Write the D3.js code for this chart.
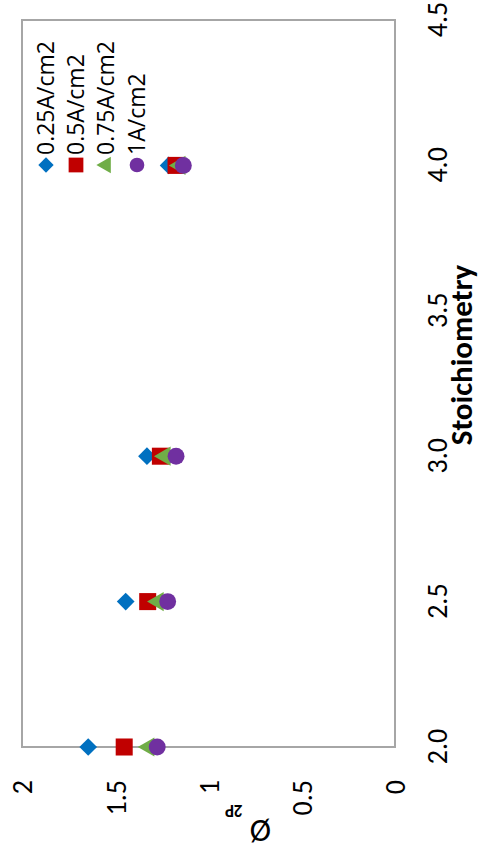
<!DOCTYPE html>
<html>
<head>
<meta charset="utf-8">
<script src="https://cdn.jsdelivr.net/npm/d3@7"></script>
<style>
  html, body { margin: 0; padding: 0; background: #fff; }
  svg { display: block; }
  text { font-family: Carlito, Calibri, "Open Sans", sans-serif; fill: #000; }
</style>
</head>
<body>
<svg id="chart" width="484" height="854"></svg>
<script>
// Stoichiometry values (x) and Ø2P per current density
const stoich = [2.0, 2.5, 3.0, 4.0];
const phi025 = [1.645, 1.444, 1.33, 1.214];
const phi05  = [1.452, 1.326, 1.258, 1.174];
const phi075 = [1.32, 1.27, 1.233, 1.153];
const phi1   = [1.275, 1.219, 1.174, 1.135];
const seriesNames = ["0.25A/cm2", "0.5A/cm2", "0.75A/cm2", "1A/cm2"];
const xTicks = [2.0, 2.5, 3.0, 3.5, 4.0, 4.5];
const yTicks = [0, 0.5, 1, 1.5, 2];

const series = [
  { name: seriesNames[0], values: phi025, color: "#0070C0", symbol: d3.symbolDiamond2 || d3.symbolDiamond, size: 200 },
  { name: seriesNames[1], values: phi05,  color: "#C00000", symbol: d3.symbolSquare, size: 290 },
  { name: seriesNames[2], values: phi075, color: "#70AD47", symbol: d3.symbolTriangle, size: 160 },
  { name: seriesNames[3], values: phi1,   color: "#7030A0", symbol: d3.symbolCircle, size: 225 }
];

const svg = d3.select("#chart");
// The chart is laid out landscape (854 x 484) and turned a quarter turn
const g = svg.append("g").attr("transform", "translate(0,854) rotate(-90)");

const plot = { left: 107, right: 834, top: 22, bottom: 395 };
const x = d3.scaleLinear().domain([2, 4.5]).range([plot.left, plot.right]);
const y = d3.scaleLinear().domain([0, 2]).range([plot.bottom, plot.top]);

// plot frame
g.append("rect")
  .attr("x", plot.left).attr("y", plot.top)
  .attr("width", plot.right - plot.left).attr("height", plot.bottom - plot.top)
  .attr("fill", "none").attr("stroke", "#A6A6A6").attr("stroke-width", 2);

// x axis labels
const xAxis = d3.axisBottom(x).tickValues(xTicks).tickFormat(d3.format(".1f")).tickSize(0).tickPadding(0);
const xa = g.append("g").attr("transform", `translate(0,${plot.bottom})`).call(xAxis);
xa.select(".domain").remove();
xa.selectAll("text")
  .attr("y", 52).attr("dy", 0)
  .style("font-size", "28px").style("font-family", 'Carlito, Calibri, "Open Sans", sans-serif');

// y axis labels
const yAxis = d3.axisLeft(y).tickValues(yTicks).tickFormat(d => String(d)).tickSize(0).tickPadding(0);
const ya = g.append("g").attr("transform", `translate(${plot.left},0)`).call(yAxis);
ya.select(".domain").remove();
ya.selectAll("text")
  .attr("x", -33).attr("dy", "0.35em")
  .style("font-size", "28px").style("font-family", 'Carlito, Calibri, "Open Sans", sans-serif');

// axis titles
g.append("text")
  .attr("x", 499).attr("y", 472)
  .attr("text-anchor", "middle")
  .style("font-size", "31px").style("font-weight", "bold")
  .text("Stoichiometry");

const yt = g.append("text")
  .attr("transform", "translate(34,248) rotate(-90)")
  .attr("text-anchor", "middle");
yt.append("tspan").style("font-size", "32px").text("Ø ");
yt.append("tspan").attr("dy", 15).style("font-size", "17px").style("font-weight", "bold").text("2P");

// data markers
series.forEach(s => {
  const sym = d3.symbol().type(s.symbol).size(s.size);
  g.append("g").selectAll("path")
    .data(stoich.map((v, i) => ({ x: v, y: s.values[i] })))
    .join("path")
    .attr("d", sym)
    .attr("transform", d => `translate(${x(d.x)},${y(d.y)})`)
    .attr("fill", s.color);
});

// legend
const legend = g.append("g");
const legendY = [46, 76, 106, 137];
series.forEach((s, i) => {
  const sym = d3.symbol().type(s.symbol).size(s.size * 0.75);
  legend.append("path")
    .attr("d", sym)
    .attr("transform", `translate(689,${legendY[i]})`)
    .attr("fill", s.color);
  legend.append("text")
    .attr("x", 699).attr("y", legendY[i]).attr("dy", "0.35em")
    .style("font-size", "23px").style("font-family", '"Open Sans", sans-serif')
    .text(s.name);
});
</script>
</body>
</html>
